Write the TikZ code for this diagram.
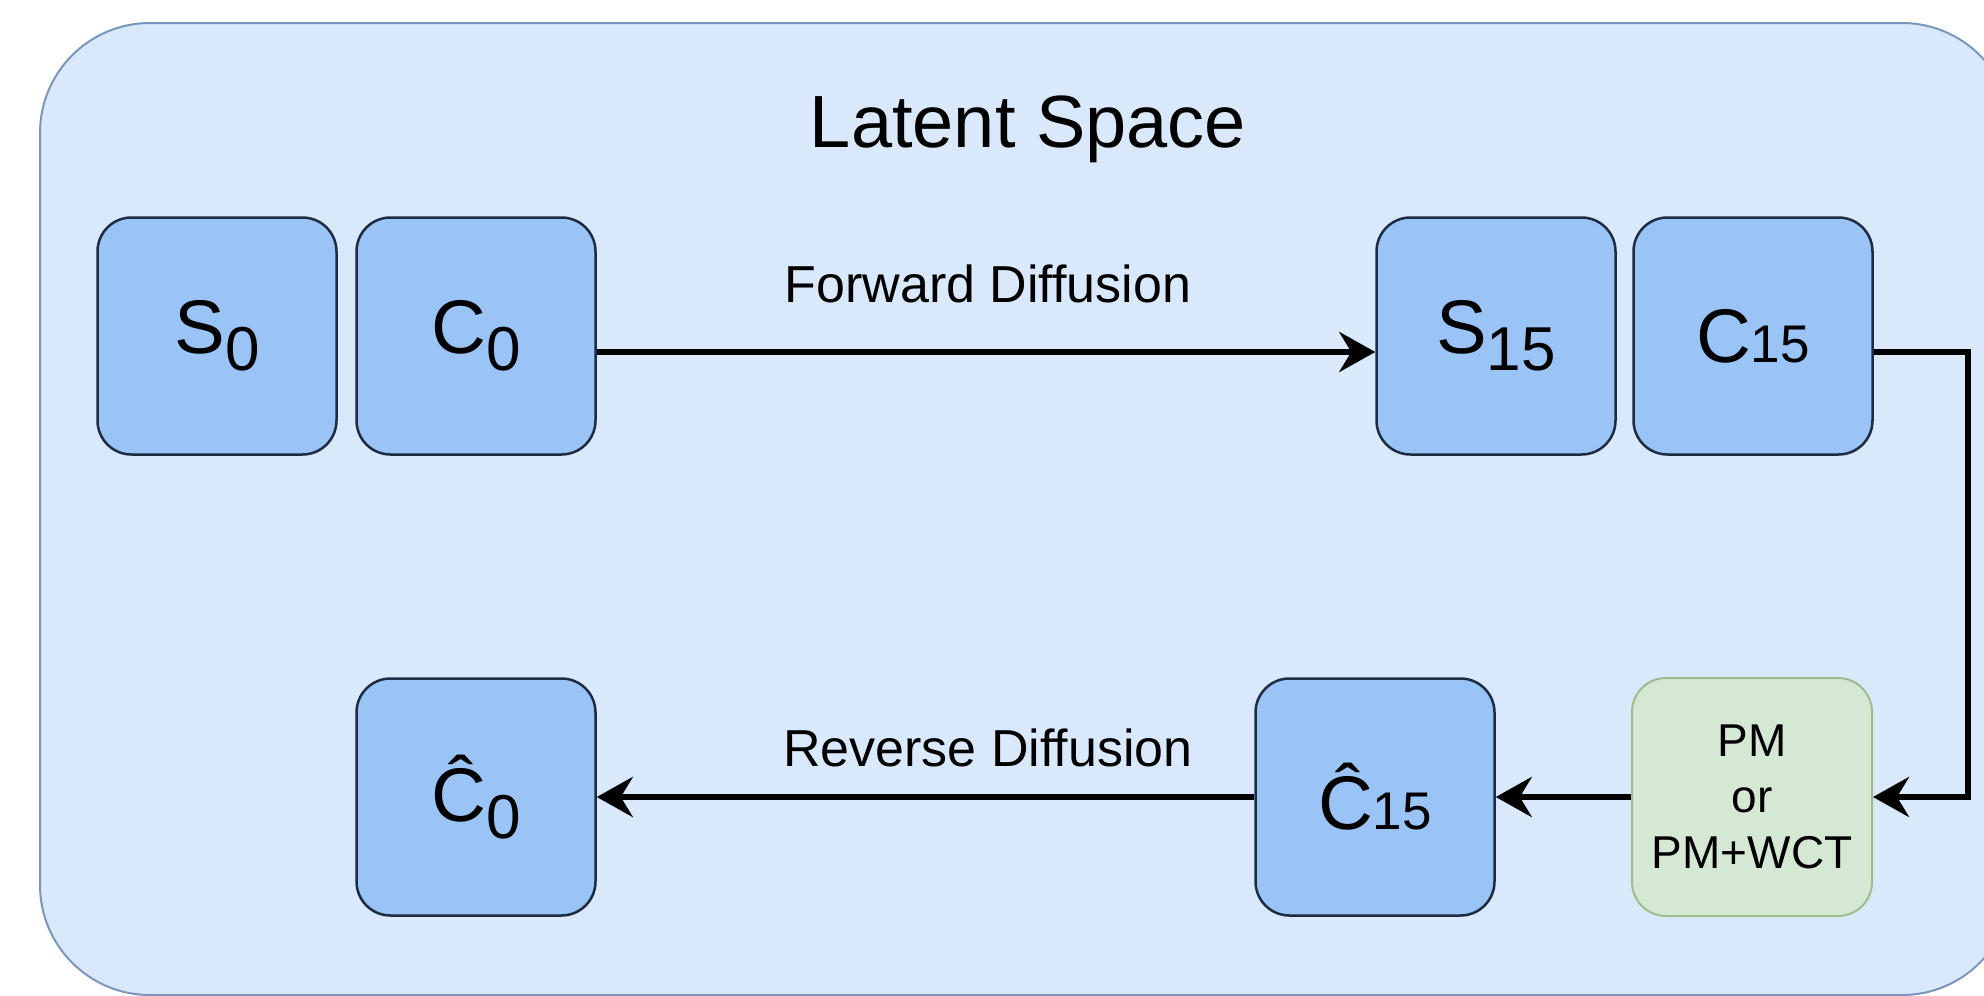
\documentclass[tikz,border=0pt]{standalone}
\usepackage{fontspec}
\setmainfont{Liberation Sans}
\usetikzlibrary{arrows.meta}
\definecolor{spacefill}{HTML}{DAE8FC}
\definecolor{spaceline}{HTML}{7B96BD}
\definecolor{boxfill}{HTML}{9AC3F6}
\definecolor{boxline}{HTML}{1C2C42}
\definecolor{pmfill}{HTML}{D5E8D4}
\definecolor{pmline}{HTML}{9CBD8C}
\newcommand\lowsub[1]{\raisebox{-17pt}{\fontsize{62}{62}\selectfont #1}}
\newcommand\flatsub[1]{{\fontsize{53}{53}\selectfont #1}}
\begin{document}
\begin{tikzpicture}[x=1pt,y=-1pt,
  block/.style={draw=boxline, fill=boxfill, line width=2.5pt, rounded corners=34pt,
    minimum width=239pt, minimum height=237pt, inner sep=0pt,
    font=\fontsize{76}{80}\selectfont},
  pmblock/.style={draw=pmline, fill=pmfill, line width=2pt, rounded corners=34pt,
    minimum width=240pt, minimum height=238pt, inner sep=0pt, align=center,
    font=\fontsize{46}{56}\selectfont},
  flow/.style={line width=6pt, -{Stealth[length=36pt,width=40pt,inset=12pt]}},
  caption/.style={font=\fontsize{52}{58}\selectfont, anchor=base, inner sep=0pt},
  title/.style={font=\fontsize{74}{80}\selectfont, anchor=base, inner sep=0pt}]
\useasboundingbox (0,0) rectangle (1984,996);
\clip (0,0) rectangle (1984,996);
\fill[white] (0,0) rectangle (1984,996);
\draw[spaceline, fill=spacefill, line width=2pt, rounded corners=110pt] (40,23) rectangle (2012,995);
\node[title] (title) at (1028,147) {Latent Space};
\node[block] (S0) at (217,336) {S\lowsub{0}};
\node[block] (C0) at (476,336) {C\lowsub{0}};
\node[block] (S15) at (1496,336) {S\lowsub{15}};
\node[block] (C15) at (1753,336) {C\flatsub{15}};
\node[block] (Ch0) at (476,797) {Ĉ\lowsub{0}};
\node[block] (Ch15) at (1375,797) {Ĉ\flatsub{15}};
\node[pmblock] (PM) at (1752,797) {PM\\or\\PM+WCT};
\node[caption] (fwd) at (988,302) {Forward Diffusion};
\node[caption] (rev) at (988,766) {Reverse Diffusion};
\draw[flow] ([yshift=-16pt]C0.east) -- ([yshift=-16pt]S15.west);
\draw[flow] ([yshift=-16pt]C15.east) -- ++(94,0) |- (PM.east);
\draw[flow] (PM.west) -- (Ch15.east);
\draw[flow] (Ch15.west) -- (Ch0.east);
\end{tikzpicture}
\end{document}
